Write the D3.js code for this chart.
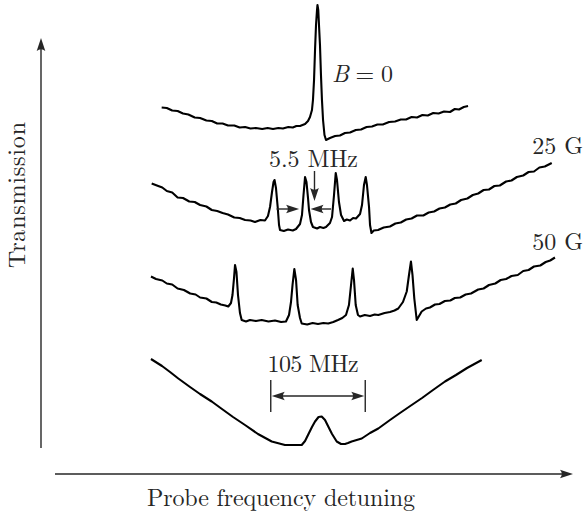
<!DOCTYPE html>
<html>
<head>
<meta charset="utf-8">
<script src="https://cdn.jsdelivr.net/npm/d3@7"></script>
<style>
  body { margin: 0; background: #fff; }
  svg { display: block; }
  svg text { font-family: "Latin Modern Roman", "Liberation Serif", serif; font-size: 24px; }
</style>
</head>
<body>
<script>
/*jslint white: true */
/*global d3 */
"use strict";

// detuning [MHz], transmission [arb. units] -- traces offset for clarity
var traceB0 = [
  [-173.7, 68.5], [-168, 68.4], [-162, 67.9], [-156, 67.8], [-150, 67.3],
  [-144, 67.1], [-137, 66.5], [-131, 66.4], [-124, 65.9], [-118, 65.8],
  [-112, 65.3], [-106, 65.3], [-100, 64.9], [-93, 64.9], [-87, 64.5],
  [-81, 64.6], [-75, 64.3], [-69, 64.4], [-62, 64.2], [-56, 64.4],
  [-50, 64.2], [-44, 64.4], [-39, 64.3], [-33, 64.6], [-28, 64.5],
  [-24, 64.8], [-20, 64.8], [-14.4, 65.2], [-11.1, 65.8], [-8.9, 66.6],
  [-6.7, 68.0], [-5.6, 70.0], [-4.4, 74.0], [-3.3, 80.0], [-2.2, 85.0],
  [-1.1, 88.0], [-0.6, 89.0], [0.3, 88.0], [1.1, 85.0], [2.2, 81.0],
  [3.3, 75.0], [4.4, 70.0], [5.6, 66.0], [7.2, 63.0], [8.9, 62.0],
  [13.3, 62.4], [19, 62.8], [24.4, 62.9], [30, 63.4], [35.6, 63.5],
  [42, 64.0], [47.8, 64.1], [54, 64.6], [60, 64.7], [66, 65.1],
  [72, 65.1], [79, 65.6], [85.6, 65.7], [92, 66.1], [97.8, 66.1],
  [104, 66.6], [110, 66.5], [116, 67.0], [122, 66.9], [128, 67.4],
  [134, 67.3], [140, 67.7], [146.7, 67.6], [152, 68.2], [156.7, 68.1],
  [162, 68.6], [166.7, 68.8]
];

var trace25G = [
  [-184.8, 53.3], [-179, 52.9], [-173, 52.5], [-168, 51.8], [-162, 51.5],
  [-156, 50.5], [-150, 50.4], [-143, 49.7], [-137, 49.6], [-131, 49.0],
  [-124, 48.7], [-118, 48.0], [-112, 47.8], [-106, 47.4], [-100, 47.1],
  [-93, 46.5], [-87, 46.4], [-81, 46.0], [-75, 45.9], [-70, 45.6],
  [-64, 46.0], [-58.9, 45.9], [-55.6, 46.8], [-53.3, 48.6], [-51.1, 51.6],
  [-49.4, 53.6], [-48.3, 54.0], [-46.7, 52.4], [-44.8, 48.6], [-43.3, 45.0],
  [-42.2, 44.0], [-38, 43.8], [-33.3, 44.1], [-28, 43.9], [-24.4, 44.2],
  [-20.0, 45.2], [-17.8, 47.0], [-16.1, 51.0], [-14.4, 54.6], [-12.8, 53.6],
  [-11.1, 50.4], [-10.0, 48.0], [-7.8, 45.6], [-5.6, 44.6], [-1, 44.3],
  [2.2, 44.6], [6, 44.4], [8.9, 44.6], [13.3, 45.4], [15.6, 46.6],
  [17.8, 51.0], [19.7, 55.4], [21.1, 54.0], [23.3, 49.6], [25.6, 47.0],
  [28.9, 45.8], [32, 46.1], [35.6, 45.9], [39, 46.4], [42.2, 46.3],
  [46.7, 47.2], [48.9, 49.0], [51.1, 53.0], [53.0, 54.6], [54.4, 53.0],
  [56.7, 48.6], [57.8, 45.0], [59.4, 43.4], [62, 43.9], [66.7, 44.0],
  [73, 44.5], [80, 44.7], [86, 45.3], [92, 45.5], [98, 46.1],
  [104, 46.3], [110, 46.9], [117, 46.9], [123, 47.5], [129, 47.7],
  [135, 48.3], [141, 48.5], [147, 49.1], [153, 49.3], [159, 50.0],
  [166, 50.3], [172, 51.0], [178, 51.3], [184, 52.0], [190, 52.1],
  [196, 52.8], [202, 52.9], [209, 53.7], [215, 53.9], [221, 54.6],
  [228, 54.9], [234, 55.6], [240, 55.7], [246, 56.5], [252, 56.7],
  [259.7, 57.4]
];

var trace50G = [
  [-185.6, 34.7], [-180, 34.2], [-173, 33.9], [-168, 33.3], [-162, 33.1],
  [-156, 32.3], [-149, 32.0], [-142, 31.3], [-136, 31.1], [-131, 30.5],
  [-124, 30.3], [-118, 29.6], [-113, 29.5], [-108, 29.1], [-103, 28.9],
  [-99.7, 28.7], [-96.7, 29.4], [-95.0, 31.0], [-93.3, 34.4], [-92.2, 37.0],
  [-90.6, 35.6], [-88.9, 31.0], [-86.7, 27.4], [-84.8, 26.0], [-80, 25.7],
  [-75.6, 26.0], [-69, 25.8], [-62.6, 26.0], [-55, 25.7], [-47.8, 25.9],
  [-41, 25.6], [-35.6, 25.7], [-32.2, 27.0], [-30.0, 29.6], [-28.3, 33.0],
  [-26.3, 36.2], [-24.4, 34.0], [-22.6, 29.0], [-20.0, 26.4], [-18.1, 25.3],
  [-12, 25.1], [-6, 25.4], [0, 25.2], [6, 25.4], [11.4, 25.3],
  [17, 25.6], [22.2, 26.0], [27, 26.4], [31.1, 27.0], [34.4, 29.0],
  [36.7, 33.0], [38.6, 36.3], [40.0, 34.0], [41.9, 29.0], [44.4, 27.0],
  [46.7, 26.7], [52, 27.0], [57.8, 26.8], [63, 27.1], [67.0, 27.0],
  [74, 27.4], [80.0, 27.6], [85, 27.9], [89.2, 28.3], [94.4, 29.6],
  [98.6, 31.7], [101.1, 35.0], [103.3, 37.7], [105.0, 35.0], [107.0, 30.3],
  [109.7, 26.0], [115.2, 27.7], [120, 28.3], [124.4, 28.5], [130, 29.1],
  [135, 29.2], [141, 29.8], [147, 29.9], [152, 30.4], [158, 30.5],
  [164, 31.1], [170, 31.3], [178, 32.1], [184, 32.3], [190, 33.0],
  [197, 33.3], [203, 34.0], [209, 34.2], [215, 34.8], [222, 35.0],
  [228, 35.8], [234, 36.0], [240, 36.7], [247, 36.9], [253, 37.6],
  [258, 37.9], [263.3, 38.5]
];

var traceHigh = [
  [-185.6, 18.2], [-173.3, 16.8], [-164.4, 15.6], [-155.2, 14.3], [-142.2, 12.6],
  [-131.1, 11.2], [-118.1, 9.7], [-106.7, 8.2], [-94.4, 6.6], [-81.1, 5.0],
  [-66.7, 3.2], [-51.4, 1.7], [-36.7, 1.0], [-18.1, 1.0], [-14.4, 1.8],
  [-11.1, 3.0], [-6.7, 4.6], [-3.3, 5.7], [0.6, 6.6], [4.1, 6.7],
  [7.8, 6.0], [11.4, 4.7], [15.6, 3.2], [20.8, 1.7], [25.6, 1.2],
  [30.0, 1.2], [33.3, 1.4], [37.4, 1.7], [48.6, 2.3], [57.8, 3.4],
  [67.0, 4.3], [80.0, 6.0], [91.1, 7.4], [104.1, 9.0], [115.6, 10.4],
  [127.8, 12.0], [141.1, 13.7], [153.3, 15.0], [165.6, 16.4], [181.9, 18.0]
];

var fieldLabels = ["25 G", "50 G"];
var linewidthLabel = "5.5 MHz";
var splittingMHz = 105;
var axisLabels = ["Probe frequency detuning", "Transmission"];

(function () {
  var width = 584, height = 520, ink = "#262626",
    x = d3.scaleLinear().domain([-200, 300]).range([138, 588]),
    y = d3.scaleLinear().domain([0, 90]).range([450, 0]),
    line = d3.line().x(function (d) { return x(d[0]); }).y(function (d) { return y(d[1]); }),
    svg = d3.select("body").append("svg").attr("width", width).attr("height", height);

  // LaTeX-like arrow head with its tip at (tx, ty), pointing along angle (deg)
  function head(g, tx, ty, angle, len, half) {
    g.append("path")
      .attr("d", "M0,0L" + (-len) + "," + (-half) + "Q" + (-len * 0.72) + ",0 " + (-len) + "," + half + "Z")
      .attr("transform", "translate(" + tx + "," + ty + ") rotate(" + angle + ")")
      .attr("fill", ink);
  }

  function arrow(g, x1, y1, x2, y2, w) {
    var a = Math.atan2(y2 - y1, x2 - x1), len = 13;
    g.append("line")
      .attr("x1", x1).attr("y1", y1)
      .attr("x2", x2 - Math.cos(a) * (len - 3)).attr("y2", y2 - Math.sin(a) * (len - 3))
      .attr("stroke", ink).attr("stroke-width", w);
    head(g, x2, y2, a * 180 / Math.PI, len, 4.3);
  }

  // axes
  var axes = svg.append("g");
  arrow(axes, 41, 448, 41, 38, 1.4);
  arrow(axes, 55, 474, 573, 474, 1.4);

  axes.append("text")
    .text(axisLabels[0])
    .attr("x", 147).attr("y", 506)
    .attr("textLength", 268)
    .attr("fill", ink);

  axes.append("text")
    .text(axisLabels[1])
    .attr("transform", "translate(25,195) rotate(-90)")
    .attr("text-anchor", "middle")
    .attr("textLength", 146)
    .attr("fill", ink);

  // traces
  svg.append("g").selectAll("path")
    .data([traceB0, trace25G, trace50G, traceHigh])
    .join("path")
    .attr("d", line)
    .attr("fill", "none")
    .attr("stroke", "#000")
    .attr("stroke-width", 2.1)
    .attr("stroke-linejoin", "round");

  // labels
  var lab = svg.append("g").attr("fill", ink);

  var b0 = lab.append("text").attr("x", 332).attr("y", 82).attr("textLength", 61);
  b0.append("tspan").attr("font-style", "italic").text("B");
  b0.append("tspan").text(" = 0");

  lab.selectAll("text.field")
    .data(fieldLabels)
    .join("text")
    .attr("class", "field")
    .attr("x", 583)
    .attr("y", function (d, i) { return [154, 250][i]; })
    .attr("text-anchor", "end")
    .text(function (d) { return d; });

  // 5.5 MHz linewidth marker
  lab.append("text")
    .text(linewidthLabel)
    .attr("x", 313.5).attr("y", 167)
    .attr("text-anchor", "middle")
    .attr("textLength", 89);
  var ann = svg.append("g");
  arrow(ann, x(-46), 209, x(-21), 209, 1.4);
  arrow(ann, x(14.5), 209, x(-8.3), 209, 1.4);
  arrow(ann, x(-3.9), 171, x(-3.9), 201, 1.4);

  // splitting marker
  lab.append("text")
    .text(splittingMHz + " MHz")
    .attr("x", x(-5.5)).attr("y", 372)
    .attr("text-anchor", "middle")
    .attr("textLength", 91);
  [-splittingMHz / 2, splittingMHz / 2].forEach(function (v) {
    ann.append("line")
      .attr("x1", x(v)).attr("x2", x(v))
      .attr("y1", 380).attr("y2", 412)
      .attr("stroke", ink).attr("stroke-width", 1.4);
  });
  arrow(ann, x(0), 396, x(-splittingMHz / 2) + 1, 396, 1.4);
  arrow(ann, x(0), 396, x(splittingMHz / 2) - 1, 396, 1.4);
}());
</script>
</body>
</html>
